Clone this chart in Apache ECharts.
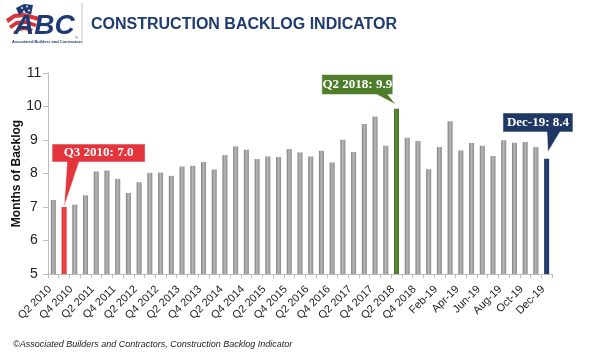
<!DOCTYPE html>
<html>
<head>
<meta charset="utf-8">
<script src="https://cdn.jsdelivr.net/npm/echarts@6/dist/echarts.min.js"></script>
<style>
html,body{margin:0;padding:0;background:#fff;}
#chart{width:600px;height:356px;}
</style>
</head>
<body>
<div id="chart"></div>
<script>
// ---- data ----
const categories = [
  'Q2 2010','Q3 2010','Q4 2010',
  'Q1 2011','Q2 2011','Q3 2011','Q4 2011',
  'Q1 2012','Q2 2012','Q3 2012','Q4 2012',
  'Q1 2013','Q2 2013','Q3 2013','Q4 2013',
  'Q1 2014','Q2 2014','Q3 2014','Q4 2014',
  'Q1 2015','Q2 2015','Q3 2015','Q4 2015',
  'Q1 2016','Q2 2016','Q3 2016','Q4 2016',
  'Q1 2017','Q2 2017','Q3 2017','Q4 2017',
  'Q1 2018','Q2 2018','Q3 2018','Q4 2018',
  'Jan-19','Feb-19','Mar-19','Apr-19','May-19','Jun-19',
  'Jul-19','Aug-19','Sep-19','Oct-19','Nov-19','Dec-19'
];
const backlog = [
  7.21, 7.0, 7.07,
  7.35, 8.06, 8.09, 7.84,
  7.42, 7.74, 8.02, 8.03,
  7.93, 8.21, 8.23, 8.34,
  8.12, 8.55, 8.81, 8.71,
  8.43, 8.51, 8.49, 8.73,
  8.63, 8.51, 8.68, 8.33,
  9.01, 8.64, 9.48, 9.70,
  8.83, 9.93,
  9.07, 8.97,
  8.13, 8.79, 9.56, 8.69, 8.91, 8.83,
  8.52, 8.99, 8.92, 8.94, 8.79, 8.44
];
const highlightIdx = [1, 32, 46];
const highlightColors = ['#E5353C', '#4E7D2C', '#1F3864'];
const calloutText = ['Q3 2010: 7.0', 'Q2 2018: 9.9', 'Dec-19: 8.4'];
const yTicks = { min: 5, max: 11, interval: 1 };

// ---- chart ----
const chart = echarts.init(document.getElementById('chart'), null, { renderer: 'canvas' });

function grad3(c1, c2, c3) {
  return { type: 'linear', x: 0, y: 0, x2: 1, y2: 0, colorStops: [
    { offset: 0, color: c1 }, { offset: 0.45, color: c2 }, { offset: 1, color: c3 }
  ] };
}
const grayGrad = grad3('#7a7a7a', '#b9b9b9', '#8a8a8a');
const hlFill = [grad3('#D92C33', '#F0474D', '#D92C33'), grad3('#43702A', '#5B8E37', '#43702A'), grad3('#1A2F57', '#27457A', '#1A2F57')];

const barData = backlog.map((v, i) => {
  const h = highlightIdx.indexOf(i);
  if (h >= 0) return { value: v, itemStyle: { color: hlFill[h] } };
  return v;
});

// callout shapes (box + tail), anchored at the tail tip
const callouts = [
  { path: 'path://M0 0 L93 0 L93 18 L27 18 L12 63 L15 18 L0 18 Z', size: [93, 63], offset: [34.5, -31.5], labelOffset: [0, -22.5] },
  { path: 'path://M0 0 L71 0 L71 20 L66 20 L74 30 L55 20 L0 20 Z', size: [74, 30], offset: [-37.7, -19.3], labelOffset: [-1.5, -5] },
  { path: 'path://M0 0 L70 0 L70 19 L57 19 L45 39 L44 19 L0 19 Z', size: [70, 39], offset: [-8.7, -26.3], labelOffset: [0, -10] }
];
const markData = highlightIdx.map((idx, k) => ({
  coord: [categories[idx], backlog[idx]],
  symbol: callouts[k].path,
  symbolKeepAspect: false,
  symbolSize: callouts[k].size,
  symbolOffset: callouts[k].offset,
  itemStyle: { color: highlightColors[k], borderColor: '#ffffff', borderWidth: 0.5 },
  label: {
    show: true, position: 'inside', formatter: calloutText[k], offset: callouts[k].labelOffset,
    color: '#ffffff', fontFamily: 'Liberation Serif, Times New Roman, serif', fontWeight: 'bold', fontSize: 13
  }
}));

const navy = '#1F3B70';
const option = {
  animation: false,
  backgroundColor: '#ffffff',
  grid: { left: 48, right: 48, top: 73, bottom: 82, containLabel: false, outerBoundsMode: 'none' },
  xAxis: {
    type: 'category',
    data: categories,
    boundaryGap: true,
    axisLine: { show: true, lineStyle: { color: '#bdbdbd', width: 1 } },
    axisTick: { show: true, interval: 0, length: 4, lineStyle: { color: '#bdbdbd' } },
    axisLabel: {
      interval: 1, rotate: 45, margin: 10, color: '#222', fontSize: 11,
      padding: [0, 5, 0, 0],
      fontFamily: 'Liberation Sans, Arial, sans-serif'
    },
    splitLine: { show: false }
  },
  yAxis: {
    type: 'value',
    min: yTicks.min, max: yTicks.max, interval: yTicks.interval,
    name: 'Months of Backlog',
    nameLocation: 'middle',
    nameGap: 25,
    nameMoveOverlap: false,
    nameTextStyle: { color: '#111', fontSize: 12, fontWeight: 'bold', fontFamily: 'Liberation Sans, Arial, sans-serif' },
    axisLine: { show: true, lineStyle: { color: '#bdbdbd', width: 1 } },
    axisTick: { show: true, length: 5, lineStyle: { color: '#bdbdbd' } },
    axisLabel: {
      color: '#222', fontSize: 14, margin: 14, align: 'center',
      fontFamily: 'Liberation Sans, Arial, sans-serif'
    },
    splitLine: { show: false }
  },
  series: [{
    type: 'bar',
    data: barData,
    barWidth: 5,
    itemStyle: { color: grayGrad },
    markPoint: { data: markData, silent: true }
  }],
  graphic: [
    // logo: stripes
    { type: 'polygon', shape: { points: [[6,19],[14,14],[24,13],[40,17],[38,21],[24,17],[15,18],[8,23]] }, style: { fill: '#D9343A' } },
    { type: 'polygon', shape: { points: [[9,26],[16,21],[26,20],[37,24],[35,27],[26,24],[17,25],[11,29]] }, style: { fill: '#D9343A' } },
    { type: 'polygon', shape: { points: [[13,32],[19,28],[26,27],[33,29],[31,32],[25,30],[19,31],[15,34]] }, style: { fill: '#D9343A' } },
    // logo: canton
    { type: 'polygon', shape: { points: [[16,8],[24,4],[33,5],[31,15],[24,12],[19,15]] }, style: { fill: '#1F3B73' } },
    { type: 'circle', shape: { cx: 22, cy: 8, r: 0.9 }, style: { fill: '#fff' } },
    { type: 'circle', shape: { cx: 27, cy: 6.5, r: 0.9 }, style: { fill: '#fff' } },
    { type: 'circle', shape: { cx: 24, cy: 11.5, r: 0.9 }, style: { fill: '#fff' } },
    { type: 'circle', shape: { cx: 29, cy: 10.5, r: 0.9 }, style: { fill: '#fff' } },
    { type: 'text', left: 14, top: 12, style: { text: 'ABC', fill: '#1F3B73', font: 'italic bold 28px "Liberation Sans", Arial, sans-serif' } },
    { type: 'text', left: 12, top: 40, style: { text: 'Associated Builders and Contractors', fill: '#1F3B73', font: 'bold 4px "Liberation Sans", Arial, sans-serif' } },
    { type: 'text', left: 75, top: 36, style: { text: '®', fill: '#1F3B73', font: '4px "Liberation Sans", Arial, sans-serif' } },
    // divider
    { type: 'line', shape: { x1: 82, y1: 3, x2: 82, y2: 44 }, style: { stroke: '#c8c8c8', lineWidth: 1 } },
    // title
    { type: 'text', left: 91, top: 17, style: { text: 'CONSTRUCTION BACKLOG INDICATOR', fill: navy, font: 'bold 16px "Liberation Sans", Arial, sans-serif' } },
    // footer
    { type: 'text', left: 13, top: 340, style: { text: '\u00A9Associated Builders and Contractors, Construction Backlog Indicator', fill: '#222', font: 'italic 9px "Liberation Sans", Arial, sans-serif' } }
  ]
};
chart.setOption(option);
</script>
</body>
</html>
